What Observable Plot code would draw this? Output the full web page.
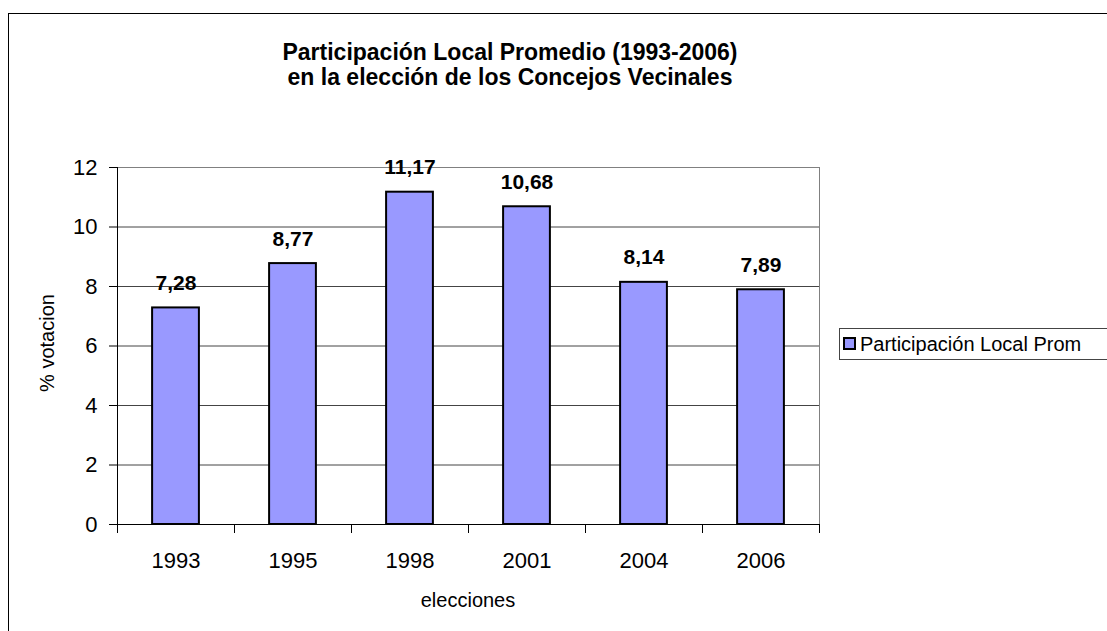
<!DOCTYPE html>
<html>
<head>
<meta charset="utf-8">
<script src="https://cdn.jsdelivr.net/npm/d3@7"></script>
<script src="https://cdn.jsdelivr.net/npm/@observablehq/plot@0.6"></script>
<style>
  html, body { margin:0; padding:0; background:#fff; overflow:hidden; width:1107px; height:631px; }
  body { position:relative; font-family:"Liberation Sans", Arial, sans-serif; }
  #border { position:absolute; left:8px; top:13px; width:1200px; height:700px; border:1px solid #000; box-sizing:border-box; }
  #chart { position:absolute; left:0; top:0; }
  #title { position:absolute; left:0; width:1020px; top:40px; text-align:center; font-weight:bold; font-size:23px; line-height:25px; color:#000; }
  #ylabel { position:absolute; left:47px; top:343px; transform:translate(-50%,-50%) rotate(-90deg); font-size:20px; white-space:nowrap; }
  #xlabel { position:absolute; left:468px; top:589px; transform:translateX(-50%); font-size:20px; white-space:nowrap; }
  #legend { position:absolute; left:839px; top:328px; width:300px; height:32px; border:1px solid #444; box-sizing:border-box; background:#fff; }
  #legend .sw { position:absolute; left:3px; top:8px; width:13px; height:13px; background:#9999ff; border:2px solid #000; box-sizing:border-box; }
  #legend .tx { position:absolute; left:20px; top:3px; font-size:20px; line-height:24px; white-space:nowrap; }
</style>
</head>
<body>
<div id="border"></div>
<div id="chart"></div>
<div id="title">Participación Local Promedio (1993-2006)<br>en la elección de los Concejos Vecinales</div>
<div id="ylabel">% votacion</div>
<div id="xlabel">elecciones</div>
<div id="legend"><div class="sw"></div><div class="tx">Participación Local Prom</div></div>
<script>
const years = ["1993", "1995", "1998", "2001", "2004", "2006"];
const values = [7.28, 8.77, 11.17, 10.68, 8.14, 7.89];
const valueLabels = ["7,28", "8,77", "11,17", "10,68", "8,14", "7,89"];
const yTicks = [0, 2, 4, 6, 8, 10, 12];

const data = years.map((y, i) => ({year: y, value: values[i], label: valueLabels[i]}));
const step = (1107 - 117 - 288) / years.length;

const chart = Plot.plot({
  width: 1107,
  height: 631,
  marginLeft: 117,
  marginRight: 288,
  marginTop: 167,
  marginBottom: 107,
  style: {fontFamily: "'Liberation Sans', Arial, sans-serif", background: "transparent", color: "#000"},
  x: {domain: years, paddingInner: 0.6, paddingOuter: 0.3, round: false, label: null},
  y: {domain: [0, 12], label: null},
  marks: [
    Plot.ruleY(yTicks, {stroke: "#444", strokeWidth: 1}),
    Plot.frame({stroke: "#808080"}),
    Plot.ruleY([0], {stroke: "#000", strokeWidth: 1}),
    Plot.ruleX([years[0]], {y1: 0, y2: 12, dx: -step / 2, stroke: "#000", strokeWidth: 1}),
    Plot.barY(data, {x: "year", y: "value", fill: "#9999ff", stroke: "#000", strokeWidth: 2}),
    Plot.text(data, {x: "year", y: "value", text: "label", dy: -18, lineAnchor: "bottom", fontWeight: "bold", fontSize: 21, fill: "#000"}),
    Plot.axisY({ticks: yTicks, tickSize: 8, tickPadding: 12, fontSize: 22, label: null, tickFormat: d => String(d), stroke: "#000"}),
    Plot.axisX({ticks: years, tickSize: 0, tickPadding: 28, fontSize: 22, label: null}),
    Plot.axisX({ticks: years, tickSize: 9, tickFormat: () => "", label: null, dx: -step / 2, stroke: "#000"}),
    Plot.axisX({ticks: [years[years.length - 1]], tickSize: 9, tickFormat: () => "", label: null, dx: step / 2, stroke: "#000"})
  ]
});
document.getElementById("chart").appendChild(chart);
</script>
</body>
</html>
